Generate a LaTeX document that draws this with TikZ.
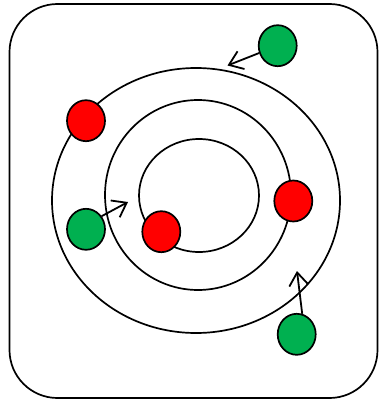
\documentclass[tikz,border=0pt]{standalone}
\usepackage{tikz}
\usetikzlibrary{shapes}
\usetikzlibrary{arrows.meta}

\definecolor{ballred}{RGB}{255,0,0}
\definecolor{ballgreen}{RGB}{0,176,80}

\tikzset{
  ball/.style={draw=black, line width=1.7pt, ellipse, minimum width=38pt, minimum height=41pt, inner sep=0pt},
  redball/.style={ball, fill=ballred},
  greenball/.style={ball, fill=ballgreen},
  push/.style={line width=1.8pt, -{Straight Barb[length=13pt,width=19pt,line width=1.8pt]}}
}

\begin{document}
\begin{tikzpicture}[x=1pt,y=-1pt]
\useasboundingbox (0,0) rectangle (379,401);
\draw[line width=1.7pt, rounded corners=48pt] (9.5,4) rectangle (377.5,398);
\draw[line width=1.7pt] (196,200.5) ellipse (144 and 132.5);
\draw[line width=1.7pt] (198,195) ellipse (93 and 95);
\draw[line width=1.7pt] (199,195.5) ellipse (60 and 56.5);

\node[redball] (r1) at (86,120.7) {};
\node[redball] (r2) at (161.3,231.7) {};
\node[redball] (r3) at (293.3,201) {};
\node[greenball] (g1) at (277.7,45.7) {};
\node[greenball] (g2) at (86,229.3) {};
\node[greenball] (g3) at (296.7,334.3) {};

\coordinate (t1) at (227.5,65.5);
\coordinate (t2) at (128,202);
\coordinate (t3) at (297,271);

\foreach \p/\q in {g1/t1, g2.40/t2, g3.75/t3}
{\draw[push] (\p) -- (\q);}

\end{tikzpicture}
\end{document}
